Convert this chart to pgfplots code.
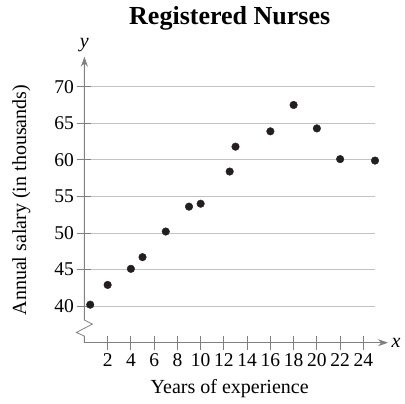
\documentclass[border=0pt]{standalone}
\usepackage{pgfplots}
\pgfplotsset{compat=1.18}
\usepackage{fontspec}
\setmainfont{Liberation Serif}
\usetikzlibrary{arrows.meta}
\definecolor{axisgray}{RGB}{128,128,128}
\definecolor{gridgray}{RGB}{195,195,195}
\definecolor{dotblack}{RGB}{35,31,32}

\begin{document}
\begin{tikzpicture}
\begin{axis}[
  scale only axis,
  width=290.6pt, height=256pt,
  xmin=0, xmax=25,
  ymin=35, ymax=70,
  axis lines=left,
  x axis line style={axisgray, line width=0.8pt, -{Stealth[length=10pt,width=7pt]}, shorten >=-13pt},
  y axis line style={draw=none},
  xtick={2,4,...,24},
  ytick={40,45,...,70},
  tick align=center,
  major tick length=14pt,
  tick style={axisgray, line width=0.8pt},
  ymajorgrids,
  grid style={gridgray, line width=0.8pt},
  /pgf/number format/assume math mode=true,
  tick label style={font=\fontsize{19.5}{19.5}\selectfont},
  xlabel={Years of experience},
  ylabel={Annual salary (in thousands)},
  label style={font=\fontsize{20}{20}\selectfont},
  xlabel style={at={(ticklabel cs:0.5,6pt)}},
  ylabel style={at={(ticklabel cs:0.557,17pt)}},
  title={Registered Nurses},
  title style={font=\bfseries\fontsize{26}{26}\selectfont, at={(0.5,1)}, anchor=base, yshift=56pt},
  clip=false,
]
% broken y axis with arrow
\draw[axisgray, line width=0.8pt, -{Stealth[length=10pt,width=7pt]}]
  (axis cs:0,35) -- (axis cs:0,35.9) -- (axis cs:-0.69,36.4) -- (axis cs:0.69,37.55)
  -- (axis cs:0,38.1) -- (axis cs:0,70) -- ++(0pt,30pt);
\node[font=\itshape\fontsize{20}{20}\selectfont] at ([yshift=42pt]axis cs:0,70) {y};
\node[font=\itshape\fontsize{20}{20}\selectfont] at ([xshift=21pt]axis cs:25,35) {x};

\addplot[only marks, mark=*, mark size=3.8pt, color=dotblack]
  coordinates {
    (0.5,40.2) (2,42.9) (4,45.1) (5,46.7) (7,50.2) (9,53.6) (10,54.0)
    (12.5,58.4) (13,61.8) (16,63.9) (18,67.5) (20,64.3) (22,60.1) (25,59.9)
  };
\end{axis}
\pgfresetboundingbox
\path (-84.4pt,-61.3pt) rectangle (320.6pt,342.7pt);
\end{tikzpicture}
\end{document}
